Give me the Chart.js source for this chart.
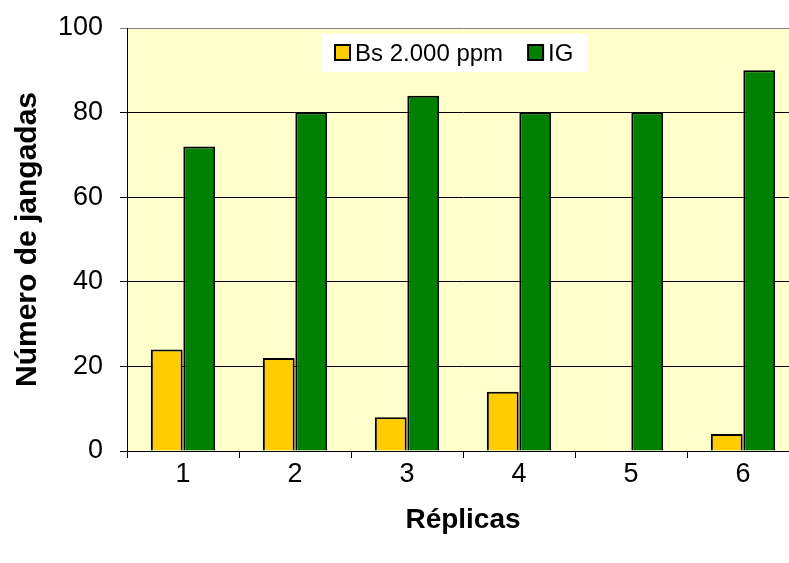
<!DOCTYPE html>
<html>
<head>
<meta charset="utf-8">
<script src="https://cdn.jsdelivr.net/npm/chart.js@4/dist/chart.umd.min.js"></script>
<style>
  html, body { margin: 0; padding: 0; background: #fff; overflow: hidden; }
  #wrap { width: 810px; height: 563px; }
</style>
</head>
<body>
<div id="wrap"><canvas id="barChart"></canvas></div>
<script>
// Chart data
const categories = ['1', '2', '3', '4', '5', '6'];
const bsValues = [24, 22, 8, 14, 0, 4];
const igValues = [72, 80, 84, 80, 80, 90];
const yTicks = [0, 20, 40, 60, 80, 100];

const FONT = 'Liberation Sans, Arial, sans-serif';

// Light yellow plot background
const plotBackground = {
    id: 'plotBackground',
    beforeDraw(chart) {
        const { ctx, chartArea: a } = chart;
        ctx.save();
        ctx.fillStyle = '#FFFFCC';
        ctx.fillRect(a.left, a.top, a.right - a.left, a.bottom - a.top);
        ctx.restore();
    }
};

// Legend box drawn inside the plot area
const boxLegend = {
    id: 'boxLegend',
    afterDraw(chart) {
        const { ctx } = chart;
        const x0 = 322, y0 = 34, w = 265, h = 38;
        ctx.save();
        ctx.fillStyle = '#ffffff';
        ctx.fillRect(x0, y0, w, h);
        ctx.font = '24px ' + FONT;
        ctx.textBaseline = 'middle';
        let x = x0 + 13;
        const cy = y0 + h / 2;
        chart.data.datasets.forEach(ds => {
            ctx.fillStyle = ds.backgroundColor;
            ctx.fillRect(x, cy - 8, 15, 15);
            ctx.strokeStyle = '#000';
            ctx.lineWidth = 2;
            ctx.strokeRect(x, cy - 8, 15, 15);
            ctx.fillStyle = '#000';
            ctx.fillText(ds.label, x + 20, cy + 1);
            x += 20 + ctx.measureText(ds.label).width + 25;
        });
        ctx.restore();
    }
};

const ctx = document.getElementById('barChart').getContext('2d');
new Chart(ctx, {
    type: 'bar',
    data: {
        labels: categories,
        datasets: [
            { label: 'Bs 2.000 ppm', data: bsValues, backgroundColor: '#FFCC00',
              borderColor: '#000', borderWidth: 2 },
            { label: 'IG', data: igValues, backgroundColor: '#008000',
              borderColor: '#000', borderWidth: 2 }
        ]
    },
    options: {
        responsive: true,
        maintainAspectRatio: false,
        animation: false,
        layout: { padding: { top: 28, right: 11, left: 0, bottom: 0 } },
        datasets: { bar: { categoryPercentage: 0.58, barPercentage: 0.98 } },
        plugins: {
            legend: { display: false },
            tooltip: { enabled: false }
        },
        scales: {
            x: {
                afterFit(scale) { scale.height = 112; },
                grid: { offset: true, drawOnChartArea: false, color: '#000', tickLength: 7 },
                border: { color: '#000', width: 1 },
                ticks: { color: '#000', font: { family: FONT, size: 27 }, padding: 0 },
                title: { display: true, text: 'Réplicas', color: '#000',
                         font: { family: FONT, size: 28, weight: 'bold' }, padding: { top: 0, bottom: 26 } }
            },
            y: {
                min: 0, max: 100,
                afterFit(scale) {
                    scale.width = 127;
                    scale.paddingTop = 0;
                    scale.paddingBottom = 0;
                },
                afterBuildTicks(scale) { scale.ticks = yTicks.map(v => ({ value: v })); },
                grid: {
                    color: c => (c.tick && c.tick.value === 100) ? '#808080' : '#000',
                    lineWidth: 1, tickLength: 7
                },
                border: { color: '#000', width: 1 },
                ticks: { color: '#000', font: { family: FONT, size: 27 }, padding: 17 },
                title: { display: true, text: 'Número de jangadas', color: '#000',
                         font: { family: FONT, size: 30, weight: 'bold' }, padding: { top: 10, bottom: 0 } }
            }
        }
    },
    plugins: [plotBackground, boxLegend]
});
</script>
</body>
</html>
